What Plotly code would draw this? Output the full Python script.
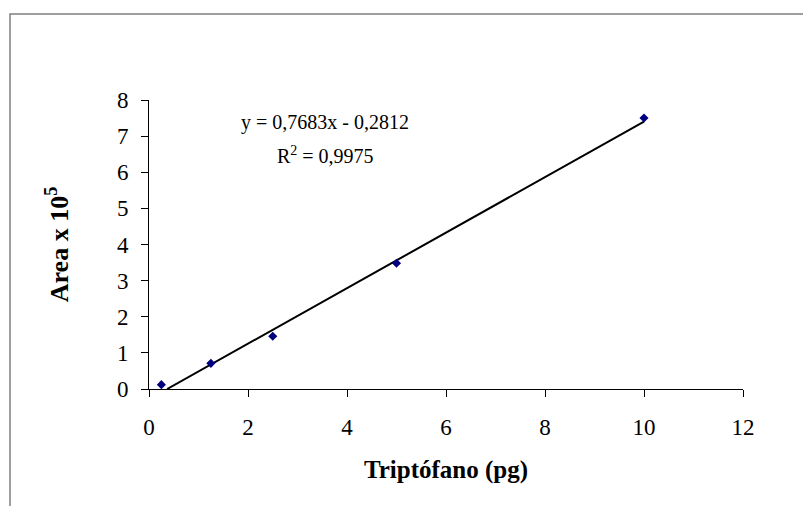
import plotly.graph_objects as go

x_vals = [0.25, 1.25, 2.5, 5, 10]
y_vals = [0.12, 0.71, 1.46, 3.48, 7.5]
slope = 0.7683
intercept = -0.2812
r2 = 0.9975
x_ticks = [0, 2, 4, 6, 8, 10, 12]
y_ticks = [0, 1, 2, 3, 4, 5, 6, 7, 8]

FONT = "Liberation Serif"

x0 = -intercept / slope
x1 = max(x_vals)
fig = go.Figure()
fig.add_trace(go.Scatter(x=[x0, x1], y=[slope * x0 + intercept, slope * x1 + intercept],
                         mode="lines", line=dict(color="black", width=2), showlegend=False,
                         hoverinfo="skip"))
fig.add_trace(go.Scatter(x=x_vals, y=y_vals, mode="markers",
                         marker=dict(symbol="diamond", size=7, color="#000080"),
                         showlegend=False))

fig.update_layout(
    width=803, height=506,
    margin=dict(l=149, r=60, t=100, b=117),
    paper_bgcolor="white", plot_bgcolor="white",
    font=dict(family=FONT, color="black", size=23),
    xaxis=dict(range=[0, 12], tickvals=x_ticks, showgrid=False, zeroline=False,
               showline=True, linecolor="black", linewidth=1,
               ticks="outside", ticklen=7, tickcolor="black", ticklabelstandoff=10,
               tickfont=dict(size=23, family=FONT),
               title=dict(text="<b>Triptófano (pg)</b>", font=dict(size=25, family=FONT), standoff=21)),
    yaxis=dict(range=[0, 8], tickvals=y_ticks, showgrid=False, zeroline=False,
               showline=True, linecolor="black", linewidth=1,
               ticks="outside", ticklen=7, tickcolor="black", ticklabelstandoff=8,
               tickfont=dict(size=23, family=FONT),
               title=dict(text="<b>Area x 10<sup>5</sup></b>", font=dict(size=26, family=FONT), standoff=40)),
    shapes=[dict(type="rect", xref="paper", yref="paper",
                 x0=(10 - 149) / 594, x1=1.5, y0=-1.0, y1=1 + (100 - 14) / 289,
                 line=dict(color="#808080", width=1.5), fillcolor="rgba(0,0,0,0)", layer="below")],
    annotations=[
        dict(xref="x", yref="y", x=3.56, y=7.37, showarrow=False,
             text="y = 0,7683x - 0,2812", font=dict(size=20, family=FONT)),
        dict(xref="x", yref="y", x=3.56, y=6.48, showarrow=False,
             text="R<sup>2</sup> = 0,9975", font=dict(size=20, family=FONT)),
    ],
)

fig.write_html("out.html")
